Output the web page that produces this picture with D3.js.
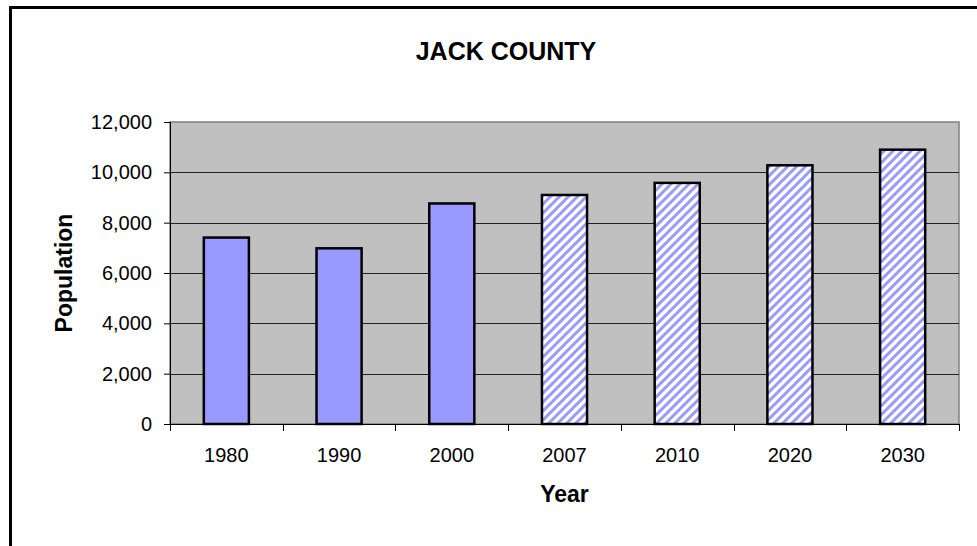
<!DOCTYPE html>
<html>
<head>
<meta charset="utf-8">
<script src="https://cdn.jsdelivr.net/npm/d3@7"></script>
<style>
  html, body { margin: 0; padding: 0; background: #fff; }
  svg { display: block; }
  text { font-family: Arial, "Liberation Sans", sans-serif; fill: #000; }
</style>
</head>
<body>
<svg id="chart" width="977" height="546"></svg>
<script>
// ---- data ----
const categories = ["1980", "1990", "2000", "2007", "2010", "2020", "2030"];
const population = [7408, 6981, 8763, 9100, 9580, 10280, 10900];
const projected  = [false, false, false, true, true, true, true];
const yTickValues = [0, 2000, 4000, 6000, 8000, 10000, 12000];
const chartTitle = "JACK COUNTY";
const xTitle = "Year";
const yTitle = "Population";

const svg = d3.select("#chart");
const W = 977, H = 546;
const plot = { left: 170, right: 959, top: 122, bottom: 424 };

// hatch pattern for projected values
const defs = svg.append("defs");
const P = 9;
const pat = defs.append("pattern")
  .attr("id", "hatch")
  .attr("patternUnits", "userSpaceOnUse")
  .attr("width", P).attr("height", P);
pat.append("rect").attr("width", P).attr("height", P).attr("fill", "#fff");
pat.append("path")
  .attr("d", `M-2,2 L2,-2 M0,${P} L${P},0 M${P - 2},${P + 2} L${P + 2},${P - 2}`)
  .attr("stroke", "#9999FF").attr("stroke-width", 3);

svg.append("rect").attr("width", W).attr("height", H).attr("fill", "#fff");

// outer frame (extends beyond the image)
svg.append("rect")
  .attr("x", 10.5).attr("y", 7.5)
  .attr("width", 1200).attr("height", 800)
  .attr("fill", "none").attr("stroke", "#000").attr("stroke-width", 3);

const x = d3.scaleBand()
  .domain(categories)
  .range([plot.left, plot.right])
  .paddingInner(0.6).paddingOuter(0.3);

const y = d3.scaleLinear()
  .domain([0, 12000])
  .range([plot.bottom, plot.top]);

// plot background
svg.append("rect")
  .attr("x", plot.left).attr("y", plot.top)
  .attr("width", plot.right - plot.left).attr("height", plot.bottom - plot.top)
  .attr("fill", "#C0C0C0").attr("stroke", "#808080").attr("stroke-width", 1.5);

// gridlines
svg.append("g").selectAll("line")
  .data(yTickValues.filter(v => v > 0 && v < 12000))
  .join("line")
  .attr("x1", plot.left).attr("x2", plot.right)
  .attr("y1", d => Math.round(y(d)) + 0.5).attr("y2", d => Math.round(y(d)) + 0.5)
  .attr("stroke", "#222").attr("stroke-width", 1);

// bars
const data = categories.map((c, i) => ({ c, v: population[i], p: projected[i] }));
svg.append("g").selectAll("rect")
  .data(data)
  .join("rect")
  .attr("x", d => x(d.c))
  .attr("y", d => y(d.v))
  .attr("width", x.bandwidth())
  .attr("height", d => y(0) - y(d.v))
  .attr("fill", d => d.p ? "url(#hatch)" : "#9999FF")
  .attr("stroke", "#000").attr("stroke-width", 2.5);

// y axis
const yAxis = d3.axisLeft(y)
  .tickValues(yTickValues)
  .tickFormat(d3.format(","))
  .tickSize(6).tickPadding(12);
const gy = svg.append("g")
  .attr("transform", `translate(${plot.left},0)`)
  .call(yAxis);
gy.select(".domain").attr("stroke", "#000").attr("d", `M0.5,${plot.top}V${plot.bottom}`);
gy.selectAll(".tick line").attr("stroke", "#000");
gy.selectAll(".tick text")
  .attr("font-size", 20).attr("font-family", "Arial, 'Liberation Sans', sans-serif")
  .attr("fill", "#000");

// x axis: baseline + boundary ticks
const gx = svg.append("g");
gx.append("line")
  .attr("x1", plot.left).attr("x2", plot.right)
  .attr("y1", plot.bottom + 0.5).attr("y2", plot.bottom + 0.5)
  .attr("stroke", "#000");
const bounds = d3.range(categories.length + 1).map(i => x.range()[0] + i * x.step());
gx.selectAll("line.tk")
  .data(bounds)
  .join("line")
  .attr("class", "tk")
  .attr("x1", d => Math.round(d) + 0.5).attr("x2", d => Math.round(d) + 0.5)
  .attr("y1", plot.bottom).attr("y2", plot.bottom + 7)
  .attr("stroke", "#000");
gx.selectAll("text")
  .data(categories)
  .join("text")
  .attr("x", d => x(d) + x.bandwidth() / 2)
  .attr("y", 461.5)
  .attr("text-anchor", "middle")
  .attr("font-size", 20)
  .text(d => d);

// titles
svg.append("text")
  .attr("x", 506).attr("y", 60)
  .attr("text-anchor", "middle")
  .attr("font-size", 25).attr("font-weight", "bold")
  .text(chartTitle);

svg.append("text")
  .attr("x", (plot.left + plot.right) / 2).attr("y", 502)
  .attr("text-anchor", "middle")
  .attr("font-size", 23).attr("font-weight", "bold")
  .text(xTitle);

svg.append("text")
  .attr("transform", `translate(72,${(plot.top + plot.bottom) / 2}) rotate(-90)`)
  .attr("text-anchor", "middle")
  .attr("font-size", 23).attr("font-weight", "bold")
  .text(yTitle);
</script>
</body>
</html>
